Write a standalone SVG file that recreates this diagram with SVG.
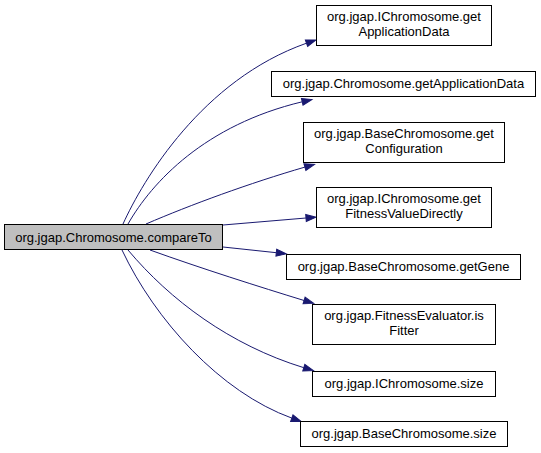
<svg xmlns="http://www.w3.org/2000/svg" width="541" height="453" viewBox="0 0 541 453">
<defs>
<style>
.node rect{fill:#ffffff;stroke:#000000;stroke-width:1}
.node.main rect{fill:#bfbfbf}
.node text{font-family:"Liberation Sans",Arial,Helvetica,sans-serif;font-size:13px;fill:#000000;text-anchor:middle}
.edges path{fill:none;stroke:#191970;stroke-width:1}
</style>
<marker id="arr" markerUnits="userSpaceOnUse" markerWidth="14" markerHeight="12" refX="1" refY="6" orient="auto">
<polygon points="1,2.5 11,6 1,9.5" fill="#191970" stroke="#191970" stroke-width="1"/>
</marker>
</defs>
<rect width="541" height="453" fill="#ffffff"/>
<g id="edges" class="edges">
<path d="M123,224 C143,180 202,80 306.5,43.2" marker-end="url(#arr)"/>
<path d="M128,224 C152,182 205,125 302.2,101.8" marker-end="url(#arr)"/>
<path d="M146,224 C190,205 250,183 304.9,167.1" marker-end="url(#arr)"/>
<path d="M223,225 L306,218" marker-end="url(#arr)"/>
<path d="M223,247 L276.3,252.7" marker-end="url(#arr)"/>
<path d="M150,250 C200,268 260,287 304.1,300.5" marker-end="url(#arr)"/>
<path d="M128,250 C170,300 230,345 303.8,367.7" marker-end="url(#arr)"/>
<path d="M122,250 C155,320 220,392 291.8,418.1" marker-end="url(#arr)"/>
</g>
<g id="n_main" class="node main">
<rect x="4.5" y="224.5" width="218" height="25"/>
<text x="113.5" y="241.5">org.jgap.Chromosome.compareTo</text>
</g>
<g id="n1" class="node">
<rect x="316.5" y="5.5" width="175" height="40"/>
<text x="404" y="20.5">org.jgap.IChromosome.get</text>
<text x="404" y="35.5">ApplicationData</text>
</g>
<g id="n2" class="node">
<rect x="271.5" y="71.5" width="264" height="25"/>
<text x="403.5" y="88">org.jgap.Chromosome.getApplicationData</text>
</g>
<g id="n3" class="node">
<rect x="303.5" y="122.5" width="201" height="40"/>
<text x="404" y="138">org.jgap.BaseChromosome.get</text>
<text x="404" y="153">Configuration</text>
</g>
<g id="n4" class="node">
<rect x="316.5" y="187.5" width="175" height="40"/>
<text x="404" y="203">org.jgap.IChromosome.get</text>
<text x="404" y="218">FitnessValueDirectly</text>
</g>
<g id="n5" class="node">
<rect x="286.5" y="254.5" width="234" height="25"/>
<text x="403.5" y="271">org.jgap.BaseChromosome.getGene</text>
</g>
<g id="n6" class="node">
<rect x="312.5" y="304.5" width="183" height="40"/>
<text x="404" y="320">org.jgap.FitnessEvaluator.is</text>
<text x="404" y="335">Fitter</text>
</g>
<g id="n7" class="node">
<rect x="312.5" y="371.5" width="183" height="25"/>
<text x="404" y="388">org.jgap.IChromosome.size</text>
</g>
<g id="n8" class="node">
<rect x="300.5" y="421.5" width="207" height="25"/>
<text x="404" y="438">org.jgap.BaseChromosome.size</text>
</g>
</svg>
